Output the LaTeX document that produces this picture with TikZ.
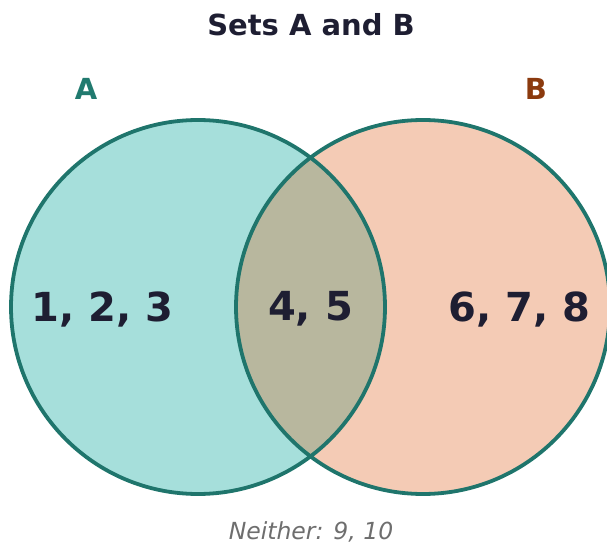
\documentclass[tikz,border=0pt]{standalone}
\usepackage{fontspec}
\setmainfont{DejaVu Sans}
\definecolor{txt}{HTML}{1E1E32}
\definecolor{edge}{HTML}{1F756C}
\definecolor{fillA}{HTML}{A6DFDB}
\definecolor{fillB}{HTML}{F4CBB5}
\definecolor{fillAB}{HTML}{B8B79E}
\definecolor{labA}{HTML}{217A6F}
\definecolor{labB}{HTML}{8B3A0E}
\definecolor{grey}{HTML}{6E6E6E}
\begin{document}
\begin{tikzpicture}[x=1pt,y=-1pt,
  ring/.style={draw=edge,line width=3.8pt},
  num/.style={font=\fontsize{40}{40}\selectfont\bfseries,text=txt,inner sep=0pt},
  setlab/.style={font=\fontsize{29}{29}\selectfont\bfseries,inner sep=0pt}]
\useasboundingbox (0,0) rectangle (607,545);
\begin{scope}
\clip (0,0) rectangle (607,545);
\fill[fillA] (198,307) circle (187);
\fill[fillB] (423,307) circle (187);
\begin{scope}
\clip (198,307) circle (187);
\fill[fillAB] (423,307) circle (187);
\end{scope}
\draw[ring] (198,307) circle (187);
\draw[ring] (423,307) circle (187);
\end{scope}
\node[font=\fontsize{29}{29}\selectfont\bfseries,text=txt,inner sep=0pt] (title) at (311,25) {Sets A and B};
\node[setlab,text=labA] (la) at (86,89) {A};
\node[setlab,text=labB] (lb) at (536,89) {B};
\node[num] (n1) at (102.5,309) {1, 2, 3};
\node[num] (n2) at (310.5,309) {4, 5};
\node[num] (n3) at (519.5,309) {6, 7, 8};
\node[font=\fontsize{23.5}{23.5}\selectfont\itshape,text=grey,inner sep=0pt] (nei) at (311,532) {Neither: 9, 10};
\end{tikzpicture}
\end{document}
